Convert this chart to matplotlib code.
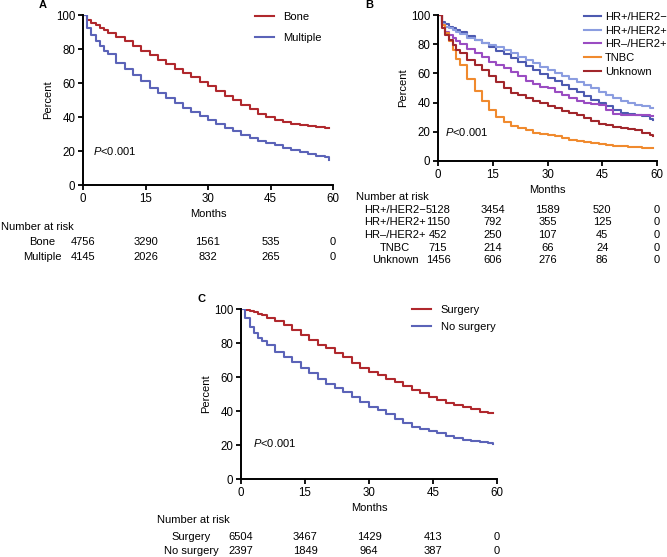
import matplotlib
matplotlib.use("Agg")
import matplotlib.pyplot as plt
from matplotlib.transforms import blended_transform_factory

plt.rcParams['font.family'] = ['Liberation Sans', 'DejaVu Sans']
plt.rcParams['font.size'] = 8
plt.rcParams['mathtext.fontset'] = 'custom'
plt.rcParams['mathtext.it'] = 'Liberation Sans:italic'
plt.rcParams['mathtext.rm'] = 'Liberation Sans'

# time grid (months) shared by all curves
months = [0, 1, 2, 3, 4, 5, 6, 8, 10, 12, 14, 16, 18, 20, 22, 24, 26, 28, 30,
          32, 34, 36, 38, 40, 42, 44, 46, 48, 50, 52, 54, 56, 58, 59]

# panel A
bone = [100, 97, 95.5, 94, 92.5, 91, 89.5, 87, 84.5, 81.5, 79, 76.5, 73.5, 71, 68.5,
        66, 63.5, 60.5, 58, 55.5, 52.5, 50, 47, 44.5, 42, 40, 38.5, 37, 36, 35.3,
        34.7, 34, 33.5, 33.3]
multiple = [100, 92.5, 88, 84.5, 81.5, 79, 77, 72, 68.5, 64.5, 61, 57, 54, 51, 48,
            45.5, 43, 40.5, 38.2, 36, 33.5, 31.5, 29.5, 27.8, 26, 24.7, 23.3, 22,
            20.6, 19.5, 18.2, 17.3, 16.5, 15]

# panel B
hrp_her2n = [100, 95.5, 93.5, 92, 91, 90, 88.5, 85.5, 83, 80.5, 78, 75.5, 73, 70.5,
             68, 65, 62.5, 59.5, 57, 54.5, 52, 49.5, 47, 44.3, 42, 39.5, 37.5, 35,
             33, 32.3, 31.5, 30.5, 29, 28]
hrp_her2p = [100, 94, 92, 91, 89.5, 88.5, 87, 84.5, 83, 81, 79.5, 78, 76, 74, 71.5,
             69, 67, 64.5, 62.5, 60, 58, 56, 54, 52, 50, 47.5, 45.5, 43, 41, 40,
             38.5, 37.5, 36.5, 36.4]
hrn_her2p = [100, 93, 88.5, 86, 84, 82, 80, 76.5, 74, 71, 68, 65.5, 64, 61, 58,
             54.5, 52.5, 51, 50, 47.5, 45, 43, 41, 40, 39, 38.5, 35, 32, 31.8, 31.8,
             31.5, 31.3, 31, 31]
tnbc = [100, 93, 87.5, 82, 76, 70, 66, 56, 48, 41, 35, 30, 26.5, 24, 22.5, 21,
        19.5, 18.5, 18, 17, 16, 14.5, 13.8, 13, 12.5, 11.8, 11, 10.5, 10, 9.7, 9.3,
        8.8, 8.6, 8.6]
unknown = [100, 91, 86, 83, 79.5, 76, 74, 69.5, 66, 62, 58, 54, 50, 46.6, 45, 43,
           41, 39.5, 37.5, 36, 34.5, 33, 31.5, 29.5, 27.5, 25.5, 24.5, 23.5, 22.7,
           22, 21, 19.5, 17.5, 17]

# panel C
surgery = [100, 99.5, 98.8, 98, 97.2, 96.5, 95, 93, 90.6, 87.5, 84.5, 81.5, 79,
           76.9, 74, 71.5, 68.5, 65.5, 63, 61, 59, 57, 55, 52.5, 50.5, 48.5, 46.5,
           45, 43.5, 42.5, 41, 39.5, 39, 39]
no_surgery = [100, 94.5, 89.5, 86, 83, 81, 79, 75, 72, 69, 65.5, 62.5, 59, 56, 53.5,
              51, 48, 45.5, 42.5, 40.5, 38, 35.5, 33, 30.8, 29.5, 28.5, 27, 25.3,
              24, 23, 22.3, 21.8, 21, 20.4]

risk_times = [0, 15, 30, 45, 60]
risk_a = {"Bone": [4756, 3290, 1561, 535, 0],
          "Multiple": [4145, 2026, 832, 265, 0]}
risk_b = {"HR+/HER2\u2212": [5128, 3454, 1589, 520, 0],
          "HR+/HER2+": [1150, 792, 355, 125, 0],
          "HR\u2013/HER2+": [452, 250, 107, 45, 0],
          "TNBC": [715, 214, 66, 24, 0],
          "Unknown": [1456, 606, 276, 86, 0]}
risk_c = {"Surgery": [6504, 3467, 1429, 413, 0],
          "No surgery": [2397, 1849, 964, 387, 0]}

RED = "#b0282d"
BLUE = "#5b63b8"

W, H = 667, 557
fig = plt.figure(figsize=(W / 100, H / 100), dpi=100)


def px(x, y):
    return x / W, 1 - y / H


def make_ax(left, top, right, bottom, p_xy):
    ax = fig.add_axes([left / W, 1 - bottom / H, (right - left) / W, (bottom - top) / H])
    ax.set_xlim(0, 60)
    ax.set_ylim(0, 100)
    ax.set_xticks([0, 15, 30, 45, 60])
    ax.set_yticks([0, 20, 40, 60, 80, 100])
    for s in ["top", "right"]:
        ax.spines[s].set_visible(False)
    for s in ["left", "bottom"]:
        ax.spines[s].set_linewidth(1.4)
    ax.tick_params(width=1.3, length=3.5, labelsize=8.3, pad=2)
    ax.set_xlabel("Months", fontsize=8, labelpad=3)
    ax.set_ylabel("Percent", fontsize=8, labelpad=2)
    ax.text(p_xy[0], p_xy[1], "$P$<0.001", fontsize=8, va="center")
    return ax


def risk_table(ax, rows, title_xy, label_x, row_ys, label_ha="center"):
    fig.text(*px(*title_xy), "Number at risk", fontsize=8, va="center", ha="left")
    tr = blended_transform_factory(ax.transData, fig.transFigure)
    for (name, vals), y in zip(rows.items(), row_ys):
        fig.text(*px(label_x, y), name, fontsize=8, va="center", ha=label_ha)
        for t, v in zip(risk_times, vals):
            ax.text(t, 1 - y / H, str(v), transform=tr, fontsize=8,
                    va="center", ha="center")


# ---- A ----
axA = make_ax(83, 15, 333, 185, (2.4, 20))
axA.step(months, bone, where="post", color=RED, lw=1.5, label="Bone")
axA.step(months, multiple, where="post", color=BLUE, lw=1.5, label="Multiple")
axA.legend(loc="upper left", bbox_to_anchor=px(255, 12), bbox_transform=fig.transFigure,
           frameon=False, borderpad=0, borderaxespad=0, handlelength=1.7,
           handletextpad=0.8, labelspacing=0.95, fontsize=8)
fig.text(*px(43, 5), "A", fontsize=8, fontweight="bold", va="center", ha="center")
risk_table(axA, risk_a, (1, 227), 42, [242, 257])

# ---- B ----
axB = make_ax(438, 15, 657, 161, (1.9, 20))
colsB = ["#4d5ab0", "#8b9de0", "#9a4cc2", "#f08a2e", "#a1262b"]
for (name, vals), c in zip(zip(risk_b.keys(), [hrp_her2n, hrp_her2p, hrn_her2p, tnbc, unknown]), colsB):
    axB.step(months, vals, where="post", color=c, lw=1.5, label=name)
axB.legend(loc="upper left", bbox_to_anchor=px(584, 12), bbox_transform=fig.transFigure,
           frameon=False, borderpad=0, borderaxespad=0, handlelength=1.5,
           handletextpad=0.4, labelspacing=0.33, fontsize=8)
fig.text(*px(369, 5), "B", fontsize=8, fontweight="bold", va="center", ha="center")
risk_table(axB, risk_b, (356, 197), 395, [210, 222, 235, 248, 260])

# ---- C ----
axC = make_ax(241, 309, 497, 479, (2.8, 21.4))
axC.step(months, surgery, where="post", color=RED, lw=1.5, label="Surgery")
axC.step(months, no_surgery, where="post", color=BLUE, lw=1.5, label="No surgery")
axC.legend(loc="upper left", bbox_to_anchor=px(412, 305), bbox_transform=fig.transFigure,
           frameon=False, borderpad=0, borderaxespad=0, handlelength=1.7,
           handletextpad=0.9, labelspacing=0.65, fontsize=8)
fig.text(*px(201, 299), "C", fontsize=8, fontweight="bold", va="center", ha="center")
risk_table(axC, risk_c, (157, 520), 191, [537, 551])

fig.savefig("out.png", dpi=100)
